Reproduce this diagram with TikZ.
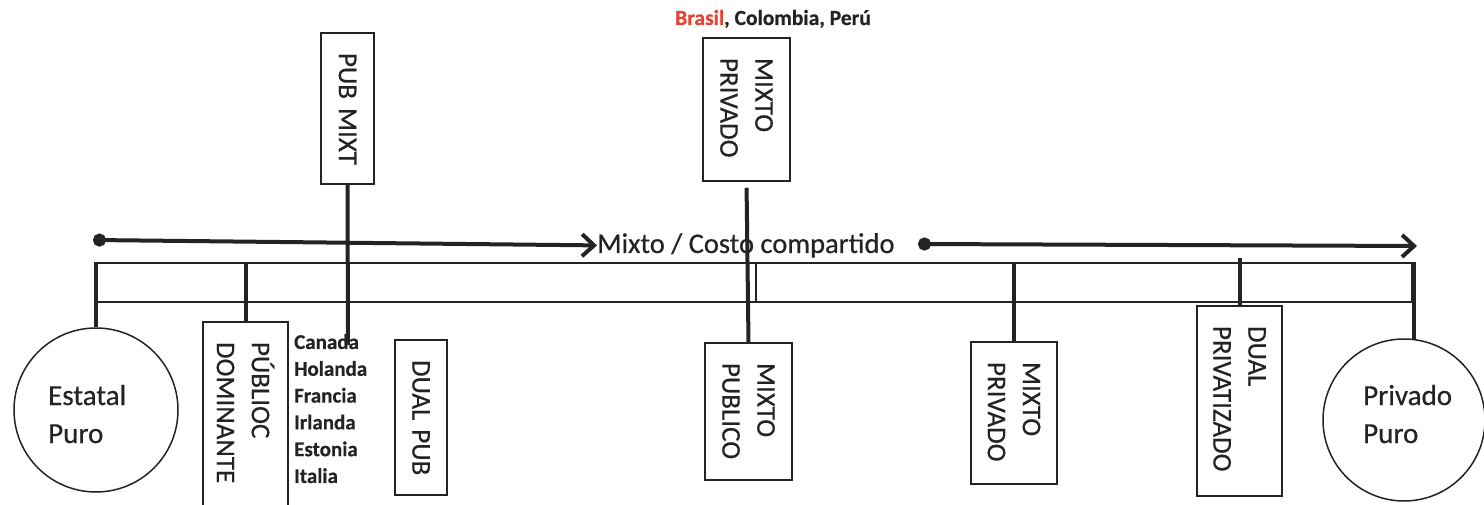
\documentclass[tikz,border=0pt]{standalone}
\usepackage{fontspec}
\setmainfont{Carlito}[FakeBold=0.5]
\newfontfamily\medfont{Carlito}[FakeBold=0.5]
\usetikzlibrary{arrows.meta}
\definecolor{ink}{HTML}{232323}
\definecolor{brred}{HTML}{E5432F}
\begin{document}
\begin{tikzpicture}[x=1pt,y=-1pt,
  thickln/.style={line width=4pt, draw=ink},
  arrowln/.style={line width=4pt, draw=ink, {Circle[length=13pt]}-{Straight Barb[length=12pt,width=22pt]}},
  vbox/.style={draw=ink, line width=1.5pt, rotate=-90, inner xsep=20pt, inner ysep=0pt,
    align=left, text=ink, font=\medfont\fontsize{27}{35}\selectfont},
  bubble/.style={circle, draw=ink, line width=1.5pt, inner sep=0pt},
  band/.style={draw=ink, line width=1.4pt, inner sep=0pt, minimum height=39pt}
]
\useasboundingbox (0,0) rectangle (1484,505);

% band
\node[band, minimum width=659pt] (bandL) at (426.5,282.5) {};
\node[band, minimum width=656pt] (bandR) at (1084,282.5) {};

% circles
\node[bubble, minimum size=164pt] (est) at (96,410) {};
\node[bubble, minimum size=162pt] (priv) at (1404,420) {};
\node[anchor=base west, inner sep=0pt, text=ink, font=\medfont\fontsize{29}{38}\selectfont] (esttxt) at (48,405)
  {\begin{tabular}[t]{@{}l@{}}Estatal\\Puro\end{tabular}};
\node[anchor=base west, inner sep=0pt, text=ink, font=\medfont\fontsize{29}{38}\selectfont] (privtxt) at (1363,405)
  {\begin{tabular}[t]{@{}l@{}}Privado\\Puro\end{tabular}};

% boxes (rotated: west = image top, east = image bottom)
\node[vbox, minimum width=151pt, text width=111pt, minimum height=53pt] (pubmixt) at (347.5,108.5) {\mbox{PUB MIXT}};
\node[vbox, minimum width=143pt, text width=103pt, minimum height=87pt] (mpvtop) at (746.5,109.5) {MIXTO\\PRIVADO};
\node[vbox, minimum width=190pt, text width=150pt, minimum height=85pt] (pubdom) at (245.5,417) {PÚBLIOC\\DOMINANTE};
\node[vbox, minimum width=155pt, text width=115pt, minimum height=52pt] (dualpub) at (421,417.5) {\mbox{DUAL PUB}};
\node[vbox, minimum width=137pt, text width=97pt, minimum height=87pt] (mpub) at (748.5,411.5) {MIXTO\\PUBLICO};
\node[vbox, minimum width=142pt, text width=102pt, minimum height=86pt] (mpriv) at (1014,413) {MIXTO\\PRIVADO};
\node[vbox, minimum width=190pt, text width=150pt, minimum height=85pt] (dualpriv) at (1239.5,401) {DUAL\\PRIVATIZADO};

% countries
\node[anchor=north west, inner sep=0pt, text=ink, font=\fontsize{21}{26.8}\selectfont\bfseries] (paises) at (294,330)
  {\begin{tabular}[t]{@{}l@{}}Canada\\Holanda\\Francia\\Irlanda\\Estonia\\Italia\end{tabular}};
\node[anchor=base, inner sep=0pt, text=ink, font=\fontsize{21.5}{26}\selectfont\bfseries] (top) at (773,25)
  {\textcolor{brred}{Brasil}, Colombia, Perú};

% axis label
\node[anchor=base west, inner sep=0pt, text=ink, font=\medfont\fontsize{28.5}{34}\selectfont] (mixto) at (597,253)
  {Mixto / Costo compartido};

% arrows
\coordinate (d1) at (93,240);
\coordinate (d2) at (918,244);
\coordinate (e2) at (1417,246);
\draw[arrowln] (d1) -- (mixto.west);
\draw[arrowln] (d2) -- (e2);

% connectors
\coordinate (cend) at (348,345);
\draw[thickln] (est.north) -- (est.north |- bandL.north);
\draw[thickln] (pubdom.west) -- (pubdom.west |- bandL.north);
\draw[thickln] (pubmixt.east) -- (cend);
\draw[thickln, shorten <=6pt] (mpvtop.east) -- (mpub.west);
\draw[thickln] (mpriv.west) -- (mpriv.west |- bandR.north);
\draw[thickln] (dualpriv.west) -- ([yshift=4pt]dualpriv.west |- bandR.north);
\draw[thickln] (priv.83) -- (priv.83 |- bandR.north);
\end{tikzpicture}
\end{document}
